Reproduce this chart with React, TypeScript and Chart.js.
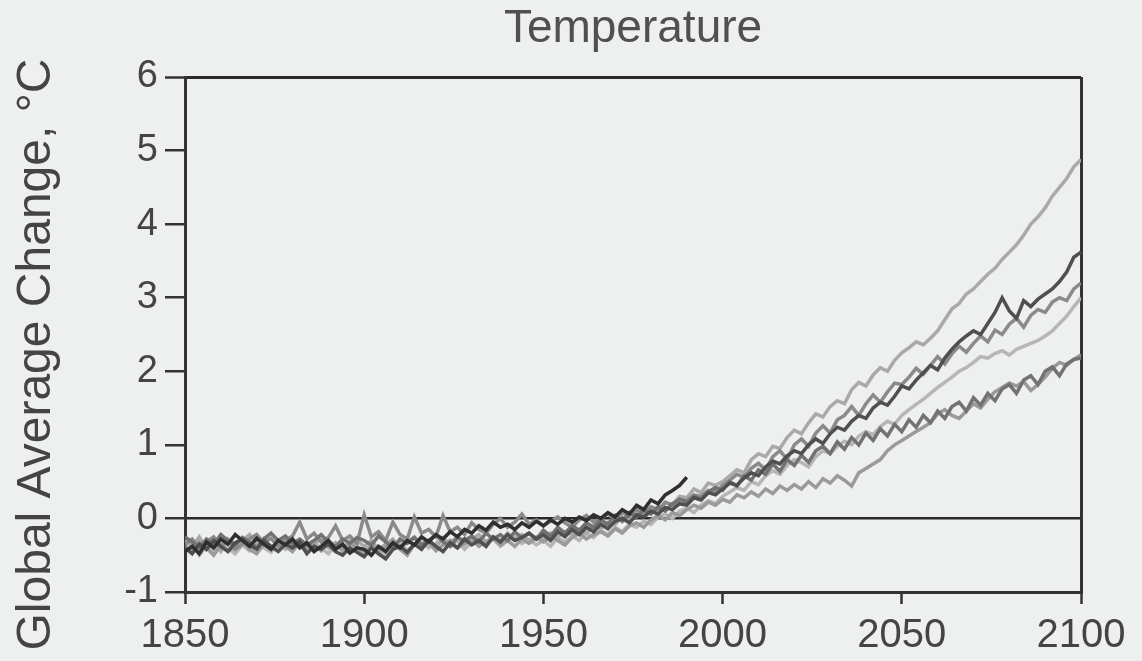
import React, { useEffect, useRef } from "react";
import { Chart, registerables } from "chart.js";

Chart.register(...registerables);

const years = [
  1850, 1852, 1854, 1856, 1858, 1860, 1862, 1864, 1866, 1868,
  1870, 1872, 1874, 1876, 1878, 1880, 1882, 1884, 1886, 1888,
  1890, 1892, 1894, 1896, 1898, 1900, 1902, 1904, 1906, 1908,
  1910, 1912, 1914, 1916, 1918, 1920, 1922, 1924, 1926, 1928,
  1930, 1932, 1934, 1936, 1938, 1940, 1942, 1944, 1946, 1948,
  1950, 1952, 1954, 1956, 1958, 1960, 1962, 1964, 1966, 1968,
  1970, 1972, 1974, 1976, 1978, 1980, 1982, 1984, 1986, 1988,
  1990, 1992, 1994, 1996, 1998, 2000, 2002, 2004, 2006, 2008,
  2010, 2012, 2014, 2016, 2018, 2020, 2022, 2024, 2026, 2028,
  2030, 2032, 2034, 2036, 2038, 2040, 2042, 2044, 2046, 2048,
  2050, 2052, 2054, 2056, 2058, 2060, 2062, 2064, 2066, 2068,
  2070, 2072, 2074, 2076, 2078, 2080, 2082, 2084, 2086, 2088,
  2090, 2092, 2094, 2096, 2098, 2100,
];

// dark historical run, 1850-1990
const runHistDark = [
  -0.45, -0.38, -0.48, -0.32, -0.40, -0.28, -0.35, -0.22, -0.30, -0.38,
  -0.27, -0.35, -0.42, -0.30, -0.36, -0.28, -0.40, -0.33, -0.45, -0.38,
  -0.30, -0.42, -0.35, -0.47, -0.40,
  -0.42, -0.50, -0.38, -0.45, -0.33, -0.40, -0.30, -0.36, -0.25, -0.32,
  -0.22, -0.28, -0.18, -0.25, -0.15, -0.20, -0.10, -0.16, -0.05, -0.12,
  -0.08, -0.15, -0.06, -0.12, -0.04,
  -0.10, -0.02, -0.08, 0.00, -0.05, 0.02, -0.03, 0.05, 0.00, 0.08,
  0.02, 0.12, 0.06, 0.18, 0.12, 0.25, 0.20, 0.32, 0.38, 0.45,
  0.56,
];

const runA = [
  -0.30, -0.38, -0.25, -0.42, -0.33, -0.45, -0.28, -0.36, -0.30, -0.22,
  -0.35, -0.27, -0.40, -0.32, -0.25, -0.38, -0.30, -0.42, -0.35, -0.28,
  -0.40, -0.33, -0.45, -0.36, -0.30,
  -0.38, -0.30, -0.42, -0.35, -0.28, -0.40, -0.32, -0.25, -0.36, -0.30,
  -0.38, -0.28, -0.33, -0.25, -0.35, -0.28, -0.22, -0.32, -0.25, -0.30,
  -0.20, -0.28, -0.22, -0.30, -0.25,
  -0.28, -0.20, -0.25, -0.18, -0.22, -0.15, -0.20, -0.10, -0.14, -0.05,
  -0.08, 0.02, -0.02, 0.08, 0.05, 0.15, 0.10, 0.22, 0.18, 0.30,
  0.28, 0.40, 0.35, 0.48, 0.45,
  0.50, 0.58, 0.66, 0.62, 0.80, 0.88, 0.84, 0.98, 0.95, 1.10,
  1.20, 1.15, 1.30, 1.42, 1.38, 1.52, 1.60, 1.56, 1.75, 1.85,
  1.80, 1.95, 2.05, 2.00, 2.15,
  2.25, 2.32, 2.40, 2.36, 2.45, 2.55, 2.70, 2.85, 2.92, 3.05,
  3.12, 3.22, 3.32, 3.40, 3.52, 3.62, 3.72, 3.85, 4.00, 4.10,
  4.22, 4.38, 4.50, 4.62, 4.78, 4.88,
];

const runB = [
  -0.40, -0.48, -0.35, -0.42, -0.30, -0.38, -0.45, -0.33, -0.28, -0.36,
  -0.42, -0.30, -0.38, -0.45, -0.35, -0.40, -0.32, -0.48, -0.38, -0.42,
  -0.35, -0.45, -0.50, -0.40, -0.46,
  -0.52, -0.40, -0.48, -0.55, -0.42, -0.38, -0.46, -0.35, -0.42, -0.30,
  -0.38, -0.45, -0.33, -0.40, -0.28, -0.36, -0.30, -0.38, -0.25, -0.32,
  -0.22, -0.30, -0.26, -0.20, -0.28,
  -0.22, -0.30, -0.18, -0.25, -0.15, -0.22, -0.12, -0.18, -0.08, -0.14,
  -0.04, 0.00, -0.06, 0.05, 0.02, 0.10, 0.06, 0.15, 0.12, 0.20,
  0.18, 0.28, 0.25, 0.35, 0.32,
  0.40, 0.48, 0.45, 0.55, 0.62, 0.58, 0.70, 0.78, 0.74, 0.85,
  0.92, 0.88, 1.00, 1.08, 1.02, 1.15, 1.24, 1.20, 1.32, 1.40,
  1.36, 1.50, 1.58, 1.54, 1.66,
  1.80, 1.76, 1.88, 1.98, 2.08, 2.02, 2.18, 2.30, 2.40, 2.48,
  2.55, 2.50, 2.65, 2.80, 3.00, 2.82, 2.72, 2.96, 2.88, 2.98,
  3.05, 3.12, 3.22, 3.35, 3.55, 3.62,
];

const runC = [
  -0.35, -0.28, -0.40, -0.32, -0.25, -0.38, -0.30, -0.42, -0.35, -0.28,
  -0.22, -0.33, -0.27, -0.38, -0.30, -0.24, -0.05, -0.28, -0.20, -0.32,
  -0.26, -0.10, -0.30, -0.24, -0.34,
  0.05, -0.25, -0.18, -0.30, -0.05, -0.22, -0.28, 0.02, -0.20, -0.15,
  -0.25, 0.04, -0.18, -0.12, -0.22, -0.06, -0.15, -0.20, -0.08, 0.00,
  -0.12, -0.05, 0.06, -0.08, -0.02,
  -0.10, -0.04, 0.02, -0.06, -0.12, -0.02, 0.04, -0.05, 0.00, 0.06,
  -0.02, 0.08, 0.04, 0.12, 0.08, 0.16, 0.12, 0.22, 0.18, 0.26,
  0.24, 0.32, 0.30, 0.38, 0.36,
  0.45, 0.52, 0.60, 0.56, 0.68, 0.75, 0.66, 0.84, 0.92, 0.80,
  1.00, 1.08, 0.98, 1.16, 1.26, 1.16, 1.34, 1.40, 1.52, 1.40,
  1.56, 1.68, 1.58, 1.72, 1.84,
  1.82, 1.92, 2.04, 1.96, 2.08, 2.20, 2.10, 2.24, 2.34, 2.26,
  2.38, 2.48, 2.40, 2.56, 2.50, 2.64, 2.72, 2.60, 2.76, 2.84,
  2.80, 2.94, 3.00, 2.96, 3.12, 3.20,
];

const runD = [
  -0.42, -0.35, -0.50, -0.38, -0.45, -0.30, -0.40, -0.48, -0.36, -0.44,
  -0.32, -0.40, -0.46, -0.35, -0.42, -0.30, -0.38, -0.45, -0.33, -0.40,
  -0.48, -0.36, -0.42, -0.30, -0.38,
  -0.45, -0.35, -0.42, -0.50, -0.38, -0.32, -0.44, -0.36, -0.28, -0.40,
  -0.34, -0.26, -0.38, -0.30, -0.42, -0.32, -0.25, -0.35, -0.28, -0.38,
  -0.30, -0.24, -0.34, -0.28, -0.36,
  -0.30, -0.38, -0.26, -0.32, -0.24, -0.30, -0.20, -0.26, -0.16, -0.22,
  -0.12, -0.18, -0.08, -0.12, -0.04, -0.08, 0.02, 0.06, 0.00, 0.10,
  0.14, 0.08, 0.18, 0.24, 0.20,
  0.30, 0.36, 0.42, 0.38, 0.50, 0.46, 0.58, 0.65, 0.60, 0.72,
  0.80, 0.76, 0.70, 0.84, 0.92, 0.88, 0.98, 1.05, 1.00, 1.12,
  1.18, 1.14, 1.25, 1.32, 1.28,
  1.40, 1.48, 1.55, 1.62, 1.70, 1.78, 1.85, 1.92, 2.00, 2.05,
  2.12, 2.20, 2.18, 2.24, 2.28, 2.22, 2.30, 2.34, 2.38, 2.42,
  2.48, 2.55, 2.65, 2.75, 2.88, 3.00,
];

const runE = [
  -0.38, -0.45, -0.32, -0.40, -0.50, -0.36, -0.44, -0.38, -0.30, -0.42,
  -0.48, -0.35, -0.40, -0.30, -0.38, -0.45, -0.32, -0.40, -0.36, -0.44,
  -0.30, -0.38, -0.42, -0.34, -0.40,
  -0.48, -0.36, -0.44, -0.38, -0.30, -0.42, -0.50, -0.35, -0.40, -0.32,
  -0.44, -0.36, -0.30, -0.40, -0.34, -0.28, -0.38, -0.32, -0.26, -0.36,
  -0.30, -0.38, -0.28, -0.34, -0.26,
  -0.32, -0.24, -0.30, -0.36, -0.26, -0.20, -0.28, -0.22, -0.18, -0.24,
  -0.14, -0.20, -0.10, -0.06, -0.12, -0.02, 0.04, -0.02, 0.08, 0.04,
  0.12, 0.18, 0.14, 0.22, 0.18,
  0.26, 0.22, 0.32, 0.28, 0.36, 0.30, 0.40, 0.34, 0.44, 0.38,
  0.46, 0.40, 0.50, 0.42, 0.54, 0.48, 0.58, 0.52, 0.44, 0.62,
  0.68, 0.74, 0.80, 0.92, 1.00,
  1.06, 1.12, 1.18, 1.24, 1.30, 1.42, 1.48, 1.40, 1.36, 1.46,
  1.56, 1.50, 1.62, 1.72, 1.78, 1.84, 1.80, 1.86, 1.74, 1.82,
  1.92, 2.04, 2.12, 2.08, 2.16, 2.22,
];

const runF = [
  -0.25, -0.32, -0.40, -0.28, -0.35, -0.22, -0.30, -0.36, -0.26, -0.32,
  -0.40, -0.28, -0.20, -0.30, -0.24, -0.34, -0.28, -0.36, -0.30, -0.22,
  -0.32, -0.38, -0.28, -0.34, -0.26,
  -0.30, -0.36, -0.24, -0.32, -0.40, -0.28, -0.34, -0.26, -0.36, -0.30,
  -0.22, -0.32, -0.38, -0.26, -0.30, -0.24, -0.32, -0.20, -0.28, -0.22,
  -0.30, -0.18, -0.26, -0.20, -0.28,
  -0.16, -0.24, -0.12, -0.20, -0.10, -0.16, -0.06, -0.12, -0.02, -0.08,
  0.04, -0.04, 0.08, 0.02, 0.12, 0.06, 0.16, 0.10, 0.20, 0.26,
  0.22, 0.30, 0.26, 0.36, 0.42,
  0.38, 0.50, 0.44, 0.58, 0.52, 0.66, 0.60, 0.74, 0.64, 0.80,
  0.72, 0.86, 0.76, 0.92, 0.98, 0.88, 1.04, 0.94, 1.10, 1.00,
  1.16, 1.06, 1.22, 1.12, 1.28,
  1.18, 1.34, 1.24, 1.40, 1.30, 1.46, 1.36, 1.52, 1.58, 1.46,
  1.64, 1.54, 1.70, 1.60, 1.76, 1.82, 1.70, 1.88, 1.94, 1.82,
  2.00, 2.06, 1.94, 2.10, 2.16, 2.18,
];

const seriesList = [runHistDark, runB, runF, runC, runE, runA, runD];
const seriesColors = ["#2f2f2f", "#4f4f4f", "#727272", "#8a8a8a", "#9a9a9a", "#a9a9a9", "#b6b6b6"];

const xTicks = [1850, 1900, 1950, 2000, 2050, 2100];
const yTicks = [-1, 0, 1, 2, 3, 4, 5, 6];

const FONT = "'Liberation Sans', Arial, Helvetica, sans-serif";

export default function App() {
  const ref = useRef<HTMLCanvasElement | null>(null);

  useEffect(() => {
    if (!ref.current) return;
    const datasets = seriesList.map((vals, k) => ({
      label: "run " + (k + 1),
      data: years
        .map((x, i) => ({ x, y: vals[i] }))
        .filter((p) => p.y !== undefined && p.y !== null),
      borderColor: seriesColors[k],
      backgroundColor: seriesColors[k],
      borderWidth: 3.5,
      pointRadius: 0,
      tension: 0,
      fill: false,
    }));

    const chart = new Chart(ref.current, {
      type: "line",
      data: { datasets },
      options: {
        animation: false,
        responsive: false,
        layout: { padding: { left: 0, right: 61, top: 0, bottom: 0 } },
        plugins: {
          legend: { display: false },
          tooltip: { enabled: false },
          title: {
            display: true,
            fullSize: false,
            text: "Temperature",
            color: "#505050",
            font: { family: FONT, size: 46, weight: "normal" },
            padding: { top: 2, bottom: 19.8 },
          },
        },
        scales: {
          x: {
            type: "linear",
            min: 1850,
            max: 2100,
            afterBuildTicks: (s: any) => {
              s.ticks = xTicks.map((v) => ({ value: v }));
            },
            afterFit: (s: any) => {
              s.height = 69;
            },
            ticks: {
              color: "#444",
              font: { family: FONT, size: 40 },
              padding: 8,
              maxRotation: 0,
              autoSkip: false,
              callback: (v: any) => String(v),
            },
            grid: {
              drawOnChartArea: true,
              color: (c: any) => (c.tick && c.tick.value === 2100 ? "#333" : "rgba(0,0,0,0)"),
              lineWidth: 3,
              tickLength: 12,
              tickColor: "#333",
              tickWidth: 2.5,
            },
            border: { display: true, color: "#333", width: 3 },
          },
          y: {
            type: "linear",
            min: -1,
            max: 6,
            afterBuildTicks: (s: any) => {
              s.ticks = yTicks.map((v) => ({ value: v }));
            },
            afterFit: (s: any) => {
              s.width = 185;
            },
            ticks: {
              color: "#444",
              font: { family: FONT, size: 38 },
              padding: 7,
            },
            grid: {
              drawOnChartArea: true,
              color: (c: any) =>
                c.tick && (c.tick.value === 0 || c.tick.value === 6) ? "#2a2a2a" : "rgba(0,0,0,0)",
              lineWidth: (c: any) => (c.tick && c.tick.value === 6 ? 3 : 2.5),
              tickLength: 20,
              tickColor: "#333",
              tickWidth: 2.5,
            },
            border: { display: true, color: "#333", width: 3 },
            title: {
              display: true,
              text: "Global Average Change, °C   ",
              color: "#444",
              font: { family: FONT, size: 48 },
              padding: { top: 8, bottom: 0 },
            },
          },
        },
      },
    });
    return () => chart.destroy();
  }, []);

  return (
    <div
      style={{
        position: "absolute",
        left: 0,
        top: 0,
        width: 1142,
        height: 661,
        background: "#edf0ee",
      }}
    >
      <canvas ref={ref} width={1142} height={661} style={{ display: "block" }} />
    </div>
  );
}
